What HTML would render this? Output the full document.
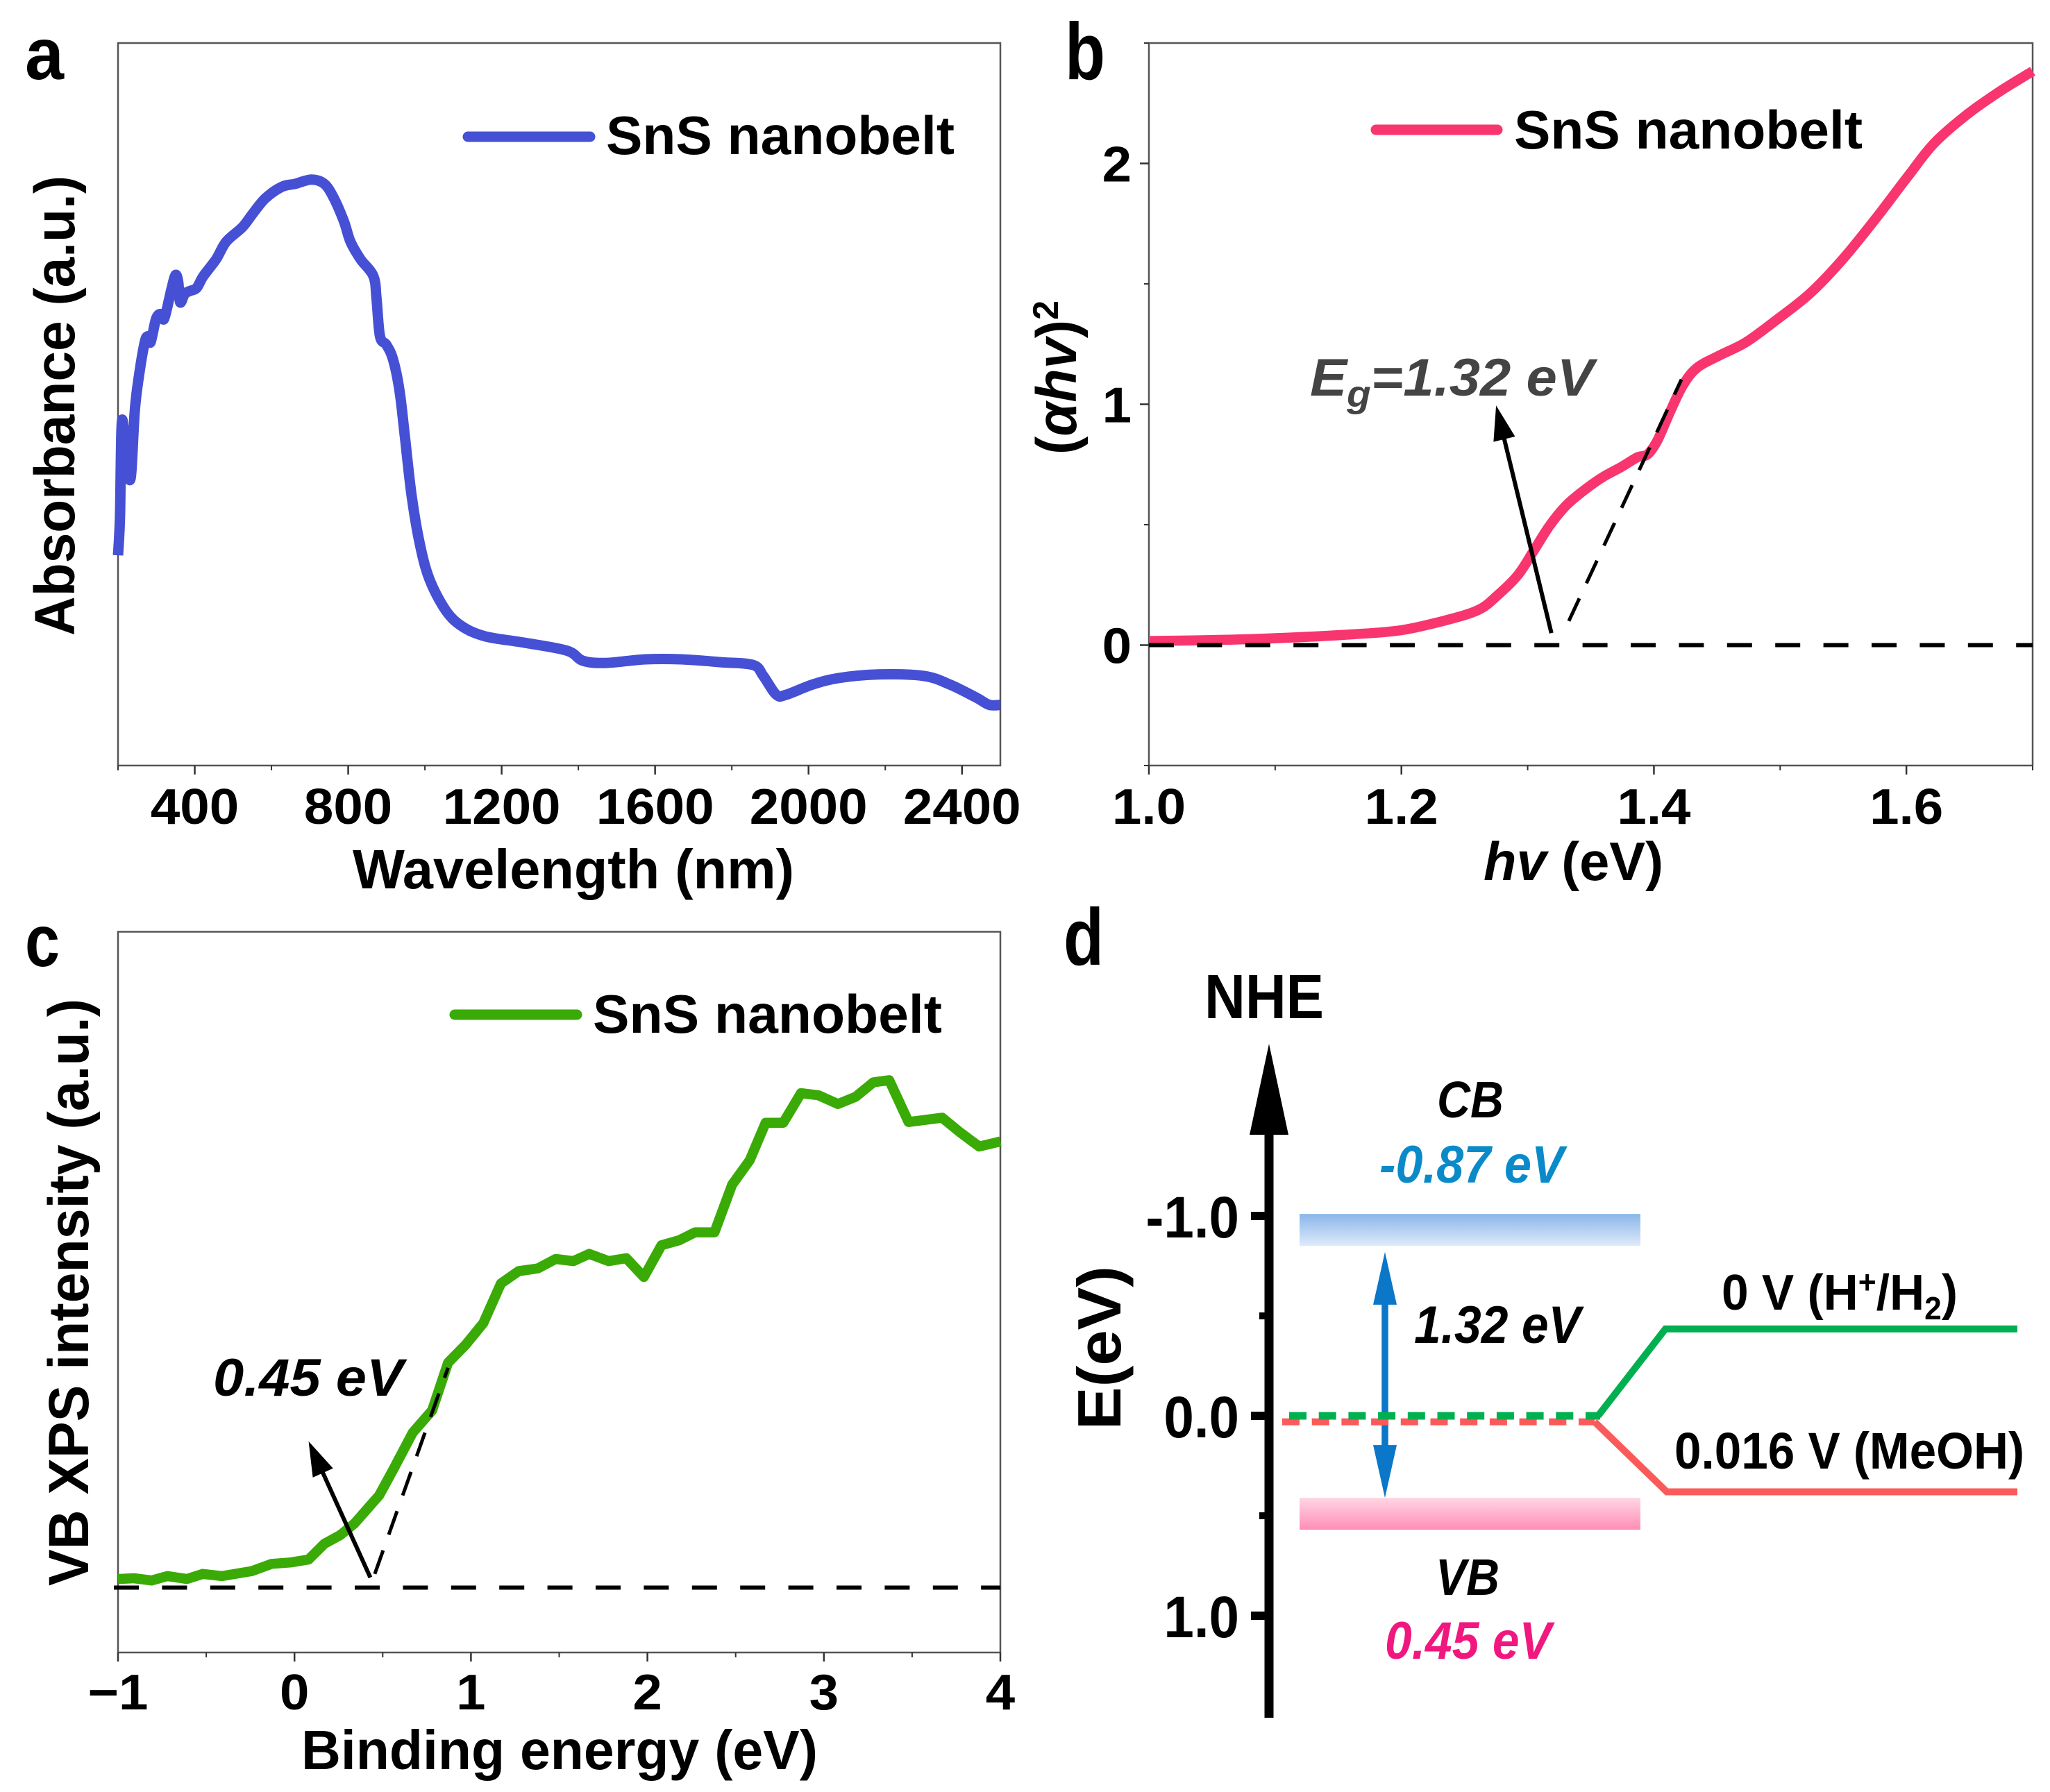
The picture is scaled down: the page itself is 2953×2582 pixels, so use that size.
<!DOCTYPE html>
<html lang="en">
<head>
<meta charset="utf-8">
<title>SnS nanobelt optical and band structure</title>
<style>
html,body{margin:0;padding:0;background:#fff;width:2953px;height:2582px;overflow:hidden}
svg{display:block}
text{font-family:"Liberation Sans",sans-serif;font-weight:bold;fill:#000}
</style>
</head>
<body>
<svg id="fig" xmlns="http://www.w3.org/2000/svg" width="2953" height="2582" viewBox="0 0 2953 2582">
<defs>
<linearGradient id="cbGrad" x1="0" y1="0" x2="0" y2="1"><stop offset="0" stop-color="#8ab6ea"/><stop offset="1" stop-color="#dfeafa"/></linearGradient>
<linearGradient id="vbGrad" x1="0" y1="0" x2="0" y2="1"><stop offset="0" stop-color="#ffd6e4"/><stop offset="1" stop-color="#ff8db6"/></linearGradient>
</defs>
<rect width="2953" height="2582" fill="#fff"/>

<text x="36" y="114" font-size="106" textLength="56" lengthAdjust="spacingAndGlyphs">a</text>
<text x="1534" y="114" font-size="116" textLength="58" lengthAdjust="spacingAndGlyphs">b</text>
<text x="36" y="1392" font-size="106" textLength="50" lengthAdjust="spacingAndGlyphs">c</text>
<text x="1532" y="1390" font-size="116" textLength="58" lengthAdjust="spacingAndGlyphs">d</text>

<g id="panelA">
<text x="508" y="1280" font-size="80" textLength="636" lengthAdjust="spacingAndGlyphs">Wavelength (nm)</text>
<text x="107" y="916" transform="rotate(-90 107 916)" font-size="82" textLength="663" lengthAdjust="spacingAndGlyphs">Absorbance (a.u.)</text>
<text x="873" y="222" font-size="78" textLength="502" lengthAdjust="spacingAndGlyphs">SnS nanobelt</text>
</g>

<g id="panelB">
<text x="2137" y="1268" font-size="78" textLength="259" lengthAdjust="spacingAndGlyphs"><tspan font-style="italic">hv</tspan> (eV)</text>
<text x="1550" y="655" transform="rotate(-90 1550 655)" font-size="82" textLength="222" lengthAdjust="spacingAndGlyphs">(<tspan font-style="italic">αhv</tspan>)<tspan dy="-26" font-size="52">2</tspan></text>
<text x="2181" y="214" font-size="78" textLength="502" lengthAdjust="spacingAndGlyphs">SnS nanobelt</text>
<text x="1887" y="570" font-size="76" font-style="italic" style="fill:#444" textLength="409" lengthAdjust="spacingAndGlyphs">E<tspan dy="16" font-size="54" style="fill:#444">g</tspan><tspan dy="-16" style="fill:#444">=1.32 eV</tspan></text>
</g>

<g id="panelC">
<text x="434" y="2549" font-size="80" textLength="744" lengthAdjust="spacingAndGlyphs">Binding energy (eV)</text>
<text x="127" y="2285" transform="rotate(-90 127 2285)" font-size="82" textLength="846" lengthAdjust="spacingAndGlyphs">VB XPS intensity (a.u.)</text>
<text x="854" y="1488" font-size="78" textLength="503" lengthAdjust="spacingAndGlyphs">SnS nanobelt</text>
<text x="307" y="2011" font-size="76" font-style="italic" textLength="274" lengthAdjust="spacingAndGlyphs">0.45 eV</text>
</g>

<g id="panelD">
<text x="1735" y="1467" font-size="90" textLength="172" lengthAdjust="spacingAndGlyphs">NHE</text>
<text x="1614" y="2060" transform="rotate(-90 1614 2060)" font-size="88" textLength="236" lengthAdjust="spacingAndGlyphs">E(eV)</text>
<text x="2070" y="1610" font-size="74" font-style="italic" textLength="96" lengthAdjust="spacingAndGlyphs">CB</text>
<text x="1987" y="1704" font-size="76" font-style="italic" style="fill:#0b8ac9" textLength="266" lengthAdjust="spacingAndGlyphs">-0.87 eV</text>
<text x="2037" y="1935" font-size="76" font-style="italic" textLength="240" lengthAdjust="spacingAndGlyphs">1.32 eV</text>
<text x="2068" y="2298" font-size="74" font-style="italic" textLength="92" lengthAdjust="spacingAndGlyphs">VB</text>
<text x="1995" y="2390" font-size="76" font-style="italic" style="fill:#f0187e" textLength="240" lengthAdjust="spacingAndGlyphs">0.45 eV</text>
<text x="2480" y="1887" font-size="72" textLength="340" lengthAdjust="spacingAndGlyphs">0 V (H<tspan dy="-24" font-size="46">+</tspan><tspan dy="24">/H</tspan><tspan dy="14" font-size="46">2</tspan><tspan dy="-14">)</tspan></text>
<text x="2412" y="2116" font-size="74" textLength="504" lengthAdjust="spacingAndGlyphs">0.016 V (MeOH)</text>
</g>
</svg>

<script>
// ---------- Panel a data ----------
const aWavelength = [200,205,209,214,219,226,234,243,251,268,277,285,299,311,320,333,340,350,357,362,374,388,405,422,456,482,524,550,584,627,661,704,738,763,789,806,832,866,874,883,900,917,934,948,965,985,1011,1054,1096,1156,1259,1370,1412,1472,1575,1668,1771,1856,1882,1916,1942,2010,2078,2181,2300,2369,2437,2471,2500];
const aAbsorbance = [29.1,34.3,46.6,47.0,42.2,40.2,40.2,48.6,52.6,58.2,59.4,58.6,61.8,62.5,61.8,64.5,66.1,67.9,66.9,64.1,65.3,65.7,66.1,67.7,70.1,72.5,74.5,76.3,78.5,80.1,80.5,81.1,80.5,78.5,75.3,72.5,70.1,67.7,64.5,59.4,58.2,56.2,51.8,45.4,37.5,31.1,25.9,21.5,19.3,17.9,17.0,15.9,14.5,14.2,14.7,14.7,14.3,13.9,12.4,9.8,9.8,11.2,12.1,12.6,12.4,11.2,9.4,8.4,8.4];
const aXTicks = [400,800,1200,1600,2000,2400];
const aXMinor = [200,600,1000,1400,1800,2200];

// ---------- Panel b data ----------
const bEnergy = [1.0,1.059,1.111,1.162,1.2,1.235,1.261,1.276,1.292,1.304,1.317,1.330,1.343,1.359,1.374,1.387,1.395,1.403,1.413,1.423,1.434,1.452,1.473,1.498,1.524,1.550,1.576,1.602,1.622,1.648,1.674,1.7];
const bSignal = [0.017,0.022,0.031,0.045,0.062,0.103,0.146,0.206,0.289,0.385,0.493,0.577,0.636,0.696,0.739,0.78,0.792,0.852,0.971,1.079,1.151,1.203,1.258,1.354,1.462,1.605,1.773,1.952,2.084,2.203,2.299,2.383];
const bXTicks = [1.0,1.2,1.4,1.6];
const bXMinor = [1.1,1.3,1.5,1.7];
const bYTicks = [0,1,2];
const bYMinor = [-0.5,0.5,1.5,2.5];
const bBaseline = 0;
const bTangentX = [1.3326,1.4218];
const bTangentY = [0.1,1.103];
const bArrowX = [1.3188,1.275];
const bArrowY = [0.05,0.995];

// ---------- Panel c data ----------
const cBinding = [-1.00,-0.91,-0.81,-0.72,-0.61,-0.52,-0.41,-0.24,-0.13,-0.02,0.08,0.17,0.26,0.34,0.48,0.56,0.67,0.78,0.87,0.97,1.07,1.17,1.27,1.38,1.48,1.58,1.67,1.78,1.88,1.98,2.08,2.18,2.27,2.38,2.48,2.58,2.67,2.77,2.87,2.97,3.08,3.18,3.28,3.37,3.48,3.67,3.77,3.88,4.00];
const cIntensity = [10.2,10.3,10.0,10.6,10.2,10.9,10.6,11.3,12.3,12.5,12.9,15.1,16.3,17.9,21.8,25.4,30.5,33.6,40.2,42.7,45.7,51.2,52.9,53.3,54.6,54.3,55.3,54.3,54.7,52.1,56.5,57.2,58.3,58.3,64.9,68.3,73.5,73.5,77.6,77.3,76.1,77.1,79.1,79.4,73.6,74.2,72.2,70.2,70.9];
const cXTicks = [-1,0,1,2,3,4];
const cXLabels = ['\u22121','0','1','2','3','4'];
const cXMinor = [-0.5,0.5,1.5,2.5,3.5];
const cBaseline = 9;
const cTangentX = [0.455,0.87];
const cTangentY = [10.9,39.5];
const cArrowX = [0.43,0.08];
const cArrowY = [10.4,29.3];

// ---------- Panel d data ----------
const dYTicks = [-1,0,1];
const dYLabels = ['-1.0','0.0','1.0'];
const dYMinor = [-0.5,0.5];
const dCbBand = [-1.01,-0.85];
const dVbBand = [0.41,0.57];
const dGapArrow = [-0.82,0.41];
const dHydrogenLevel = [0,-0.435];
const dMethanolLevel = [0.03,0.38];

const SVG_NS = 'http://www.w3.org/2000/svg';
function linear(d0, d1, r0, r1) {
  return function (v) { return r0 + (v - d0) * (r1 - r0) / (d1 - d0); };
}
function node(parent, tag) {
  const el = document.createElementNS(SVG_NS, tag);
  parent.appendChild(el);
  return el;
}
function setLine(el, x1, y1, x2, y2, color, width) {
  el.setAttribute('x1', x1);
  el.setAttribute('y1', y1);
  el.setAttribute('x2', x2);
  el.setAttribute('y2', y2);
  el.setAttribute('stroke', color);
  el.setAttribute('stroke-width', width);
}
function pathFrom(xs, ys, sx, sy) {
  return xs.map(function (x, i) { return (i ? 'L' : 'M') + sx(x).toFixed(1) + ' ' + sy(ys[i]).toFixed(1); }).join(' ');
}
function smoothPathFrom(xs, ys, sx, sy) {
  const px = xs.map(sx), py = ys.map(sy);
  let d = 'M' + px[0].toFixed(1) + ' ' + py[0].toFixed(1);
  for (let i = 0; i < px.length - 1; i++) {
    const i0 = Math.max(i - 1, 0), i3 = Math.min(i + 2, px.length - 1);
    const c1x = px[i] + (px[i + 1] - px[i0]) / 6, c1y = py[i] + (py[i + 1] - py[i0]) / 6;
    const c2x = px[i + 1] - (px[i3] - px[i]) / 6, c2y = py[i + 1] - (py[i3] - py[i]) / 6;
    d += ' C' + c1x.toFixed(1) + ' ' + c1y.toFixed(1) + ' ' + c2x.toFixed(1) + ' ' + c2y.toFixed(1) + ' ' + px[i + 1].toFixed(1) + ' ' + py[i + 1].toFixed(1);
  }
  return d;
}
function labelText(parent, str, x, y, size, anchor, stretch) {
  const t = node(parent, 'text');
  t.textContent = str;
  t.setAttribute('x', x);
  t.setAttribute('y', y);
  t.setAttribute('font-size', size);
  t.setAttribute('text-anchor', anchor);
  const w = t.getComputedTextLength();
  t.setAttribute('textLength', (w * stretch).toFixed(1));
  t.setAttribute('lengthAdjust', 'spacingAndGlyphs');
  return t;
}
function arrowHead(parent, x1, y1, x2, y2, len, half, color) {
  const a = Math.atan2(y2 - y1, x2 - x1);
  const bx = x2 - len * Math.cos(a), by = y2 - len * Math.sin(a);
  const px = -Math.sin(a) * half, py = Math.cos(a) * half;
  const p = node(parent, 'polygon');
  p.setAttribute('points', x2 + ',' + y2 + ' ' + (bx + px) + ',' + (by + py) + ' ' + (bx - px) + ',' + (by - py));
  p.setAttribute('fill', color);
  return p;
}
function drawFrame(parent, x0, y0, x1, y1) {
  const r = node(parent, 'rect');
  
  
  r.setAttribute('x', x0);
  r.setAttribute('y', y0);
  r.setAttribute('width', x1 - x0);
  r.setAttribute('height', y1 - y0);
  r.setAttribute('fill', 'none');
  r.setAttribute('stroke', '#555');
  r.setAttribute('stroke-width', 2.5);
}
function drawXAxis(parent, sx, axisY, ticks, labels, minor, labelY) {
  ticks.forEach(function (v, i) {
    const l = node(parent, 'line');
    
    
    setLine(l, sx(v), axisY, sx(v), axisY + 13, '#333', 2.5);
    const t = labelText(parent, labels[i], sx(v), labelY, 72, 'middle', 1.06);
    
    
  });
  minor.forEach(function (v) {
    const l = node(parent, 'line');
    
    
    setLine(l, sx(v), axisY, sx(v), axisY + 7, '#333', 2);
  });
}
function drawLegendLine(parent, x0, x1, y, color) {
  const l = node(parent, 'line');
  
  
  setLine(l, x0, y, x1, y, color, 15);
  l.setAttribute('stroke-linecap', 'round');
}
function drawSeries(parent, d, color, width) {
  const p = node(parent, 'path');
  
  
  p.setAttribute('d', d);
  p.setAttribute('fill', 'none');
  p.setAttribute('stroke', color);
  p.setAttribute('stroke-width', width);
  p.setAttribute('stroke-linejoin', 'round');
}
function drawDashed(parent, x1, y1, x2, y2, dash, width, name) {
  const l = node(parent, 'line');
  
  
  setLine(l, x1, y1, x2, y2, '#000', width);
  l.setAttribute('stroke-dasharray', dash);
}
function drawAnnotationArrow(parent, x1, y1, x2, y2) {
  const a = Math.atan2(y2 - y1, x2 - x1);
  const l = node(parent, 'line');
  
  
  setLine(l, x1, y1, x2 - 30 * Math.cos(a), y2 - 30 * Math.sin(a), '#000', 6);
  const h = arrowHead(parent, x1, y1, x2, y2, 50, 16, '#000');
  
  
}

// ---------- Panel a ----------
(function () {
  const g = document.getElementById('panelA');
  const sx = linear(200, 2500, 170, 1441);
  const sy = linear(0, 100, 1103, 62);
  drawFrame(g, 170, 62, 1441, 1103);
  drawXAxis(g, sx, 1103, aXTicks, aXTicks.map(String), aXMinor, 1187);
  drawSeries(g, smoothPathFrom(aWavelength, aAbsorbance, sx, sy), '#4650d4', 15);
  drawLegendLine(g, 674, 850, 197, '#4650d4');
})();

// ---------- Panel b ----------
(function () {
  const g = document.getElementById('panelB');
  const sx = linear(1.0, 1.7, 1655, 2928);
  const sy = linear(-0.5, 2.5, 1103, 62);
  drawFrame(g, 1655, 62, 2928, 1103);
  drawXAxis(g, sx, 1103, bXTicks, bXTicks.map(function (v) { return v.toFixed(1); }), bXMinor, 1187);
  bYTicks.forEach(function (v) {
    const l = node(g, 'line');
    
    
    setLine(l, 1642, sy(v), 1655, sy(v), '#333', 2.5);
    const t = labelText(g, String(v), 1630, sy(v) + 26, 72, 'end', 1.06);
    
    
  });
  bYMinor.forEach(function (v) {
    const l = node(g, 'line');
    
    
    setLine(l, 1648, sy(v), 1655, sy(v), '#333', 2);
  });
  drawSeries(g, smoothPathFrom(bEnergy, bSignal, sx, sy), '#f8356f', 14.5);
  drawDashed(g, 1655, sy(bBaseline), 2928, sy(bBaseline), '36 33.4', 6, 'zero-baseline');
  drawDashed(g, sx(bTangentX[0]), sy(bTangentY[0]), sx(bTangentX[1]), sy(bTangentY[1]), '36 24', 5, 'tangent-line');
  drawAnnotationArrow(g, sx(bArrowX[0]), sy(bArrowY[0]), sx(bArrowX[1]), sy(bArrowY[1]));
  drawLegendLine(g, 1982, 2157, 187, '#f8356f');
})();

// ---------- Panel c ----------
(function () {
  const g = document.getElementById('panelC');
  const sx = linear(-1, 4, 170, 1441);
  const sy = linear(0, 100, 2381, 1342.5);
  drawFrame(g, 170, 1342.5, 1441, 2381);
  drawXAxis(g, sx, 2381, cXTicks, cXLabels, cXMinor, 2463);
  drawSeries(g, pathFrom(cBinding, cIntensity, sx, sy), '#3aaa06', 14.5);
  drawDashed(g, 164, sy(cBaseline), 1441, sy(cBaseline), '36 33.4', 6, 'zero-baseline');
  drawDashed(g, sx(cTangentX[0]), sy(cTangentY[0]), sx(cTangentX[1]), sy(cTangentY[1]), '36 24', 5, 'tangent-line');
  drawAnnotationArrow(g, sx(cArrowX[0]), sy(cArrowY[0]), sx(cArrowX[1]), sy(cArrowY[1]));
  drawLegendLine(g, 655, 831, 1462, '#3aaa06');
})();

// ---------- Panel d ----------
(function () {
  const g = document.getElementById('panelD');
  const sy = linear(0, 1, 2040, 2328);
  const axisX = 1828;

  const cb = node(g, 'rect');
  
  
  cb.setAttribute('x', 1872);
  cb.setAttribute('y', sy(dCbBand[0]));
  cb.setAttribute('width', 491);
  cb.setAttribute('height', sy(dCbBand[1]) - sy(dCbBand[0]));
  cb.setAttribute('fill', 'url(#cbGrad)');

  const vb = node(g, 'rect');
  
  
  vb.setAttribute('x', 1872);
  vb.setAttribute('y', sy(dVbBand[0]));
  vb.setAttribute('width', 491);
  vb.setAttribute('height', sy(dVbBand[1]) - sy(dVbBand[0]));
  vb.setAttribute('fill', 'url(#vbGrad)');

  const axis = node(g, 'line');
  
  
  setLine(axis, axisX, 2475, axisX, 1630, '#000', 13);
  const tip = arrowHead(g, axisX, 2475, axisX, 1504, 131, 28, '#000');
  
  

  dYTicks.forEach(function (v, i) {
    const l = node(g, 'line');
    
    
    setLine(l, axisX - 26, sy(v), axisX, sy(v), '#000', 12);
    const t = labelText(g, dYLabels[i], 1785, sy(v) + 31, 84, 'end', 0.93);
    
    
  });
  dYMinor.forEach(function (v) {
    const l = node(g, 'line');
    
    
    setLine(l, axisX - 14, sy(v), axisX, sy(v), '#000', 10);
  });

  const gapLine = node(g, 'line');
  
  
  setLine(gapLine, 1995, sy(dGapArrow[0]) + 30, 1995, sy(dGapArrow[1]) - 30, '#0a77c8', 9.5);
  const gapUp = arrowHead(g, 1995, sy(dGapArrow[1]), 1995, sy(dGapArrow[0]), 76, 17, '#0a77c8');
  
  
  const gapDown = arrowHead(g, 1995, sy(dGapArrow[0]), 1995, sy(dGapArrow[1]), 76, 17, '#0a77c8');
  
  

  const redDash = node(g, 'line');
  
  
  setLine(redDash, 1847, sy(dMethanolLevel[0]), 2297, sy(dMethanolLevel[0]), '#fb5a5a', 10);
  redDash.setAttribute('stroke-dasharray', '25 17.7');
  const redSolid = node(g, 'polyline');
  
  
  redSolid.setAttribute('points', '2297,' + sy(dMethanolLevel[0]) + ' 2401,' + sy(dMethanolLevel[1]) + ' 2906,' + sy(dMethanolLevel[1]));
  redSolid.setAttribute('fill', 'none');
  redSolid.setAttribute('stroke', '#fb5a5a');
  redSolid.setAttribute('stroke-width', 10);

  const greenDash = node(g, 'line');
  
  
  setLine(greenDash, 1857, sy(dHydrogenLevel[0]), 2305, sy(dHydrogenLevel[0]), '#00b050', 11);
  greenDash.setAttribute('stroke-dasharray', '25 17.7');
  const greenSolid = node(g, 'polyline');
  
  
  greenSolid.setAttribute('points', '2302,' + sy(dHydrogenLevel[0]) + ' 2399,' + sy(dHydrogenLevel[1]) + ' 2906,' + sy(dHydrogenLevel[1]));
  greenSolid.setAttribute('fill', 'none');
  greenSolid.setAttribute('stroke', '#00b050');
  greenSolid.setAttribute('stroke-width', 10);
})();
</script>
</body>
</html>
